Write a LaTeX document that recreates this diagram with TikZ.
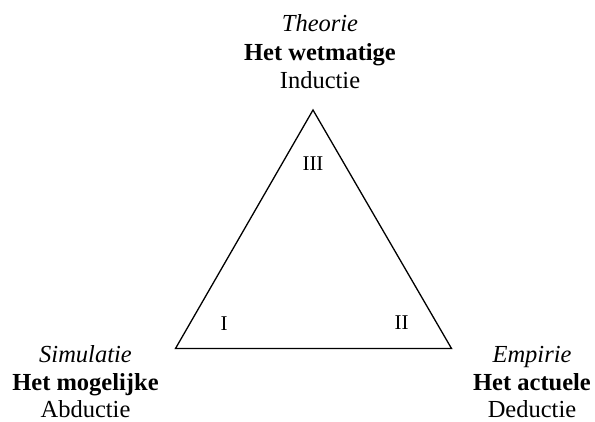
\documentclass[tikz,border=0pt]{standalone}
\usepackage{fontspec}
\setmainfont{Liberation Serif}
\begin{document}
\begin{tikzpicture}[x=1pt,y=-1pt,
  lbl/.style={anchor=base,inner sep=0pt,font=\fontsize{24.5}{28}\selectfont},
  num/.style={anchor=base,inner sep=0pt,font=\fontsize{21}{24}\selectfont},
  edge/.style={line width=1.3pt,line join=miter}]
\useasboundingbox (0,0) rectangle (595,422);
\coordinate (T) at (313,110);
\coordinate (L) at (175.5,348.5);
\coordinate (R) at (451.5,348.5);
\draw[edge] (T) -- (L) -- (R) -- cycle;
% top
\node[lbl] (t1) at (320,32) {\itshape Theorie};
\node[lbl] (t2) at (320,60.5) {\bfseries Het wetmatige};
\node[lbl] (t3) at (320,89) {Inductie};
% left
\node[lbl] (l1) at (85.5,362.5) {\itshape Simulatie};
\node[lbl] (l2) at (85.5,390.5) {\bfseries Het mogelijke};
\node[lbl] (l3) at (85.5,417.5) {Abductie};
% right
\node[lbl] (r1) at (532,362.5) {\itshape Empirie};
\node[lbl] (r2) at (532,391) {\bfseries Het actuele};
\node[lbl] (r3) at (532,417.5) {Deductie};
% numerals
\node[num] (n3) at (313,171) {III};
\node[num] (n1) at (224,331) {I};
\node[num] (n2) at (401.5,330) {II};
\end{tikzpicture}
\end{document}
